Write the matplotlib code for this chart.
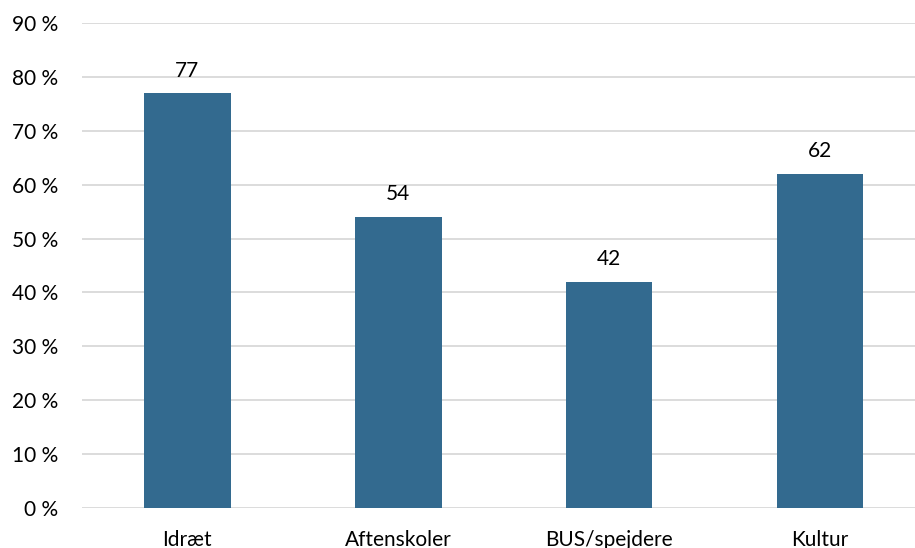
import matplotlib
matplotlib.use("Agg")
import matplotlib.pyplot as plt
from matplotlib.ticker import FuncFormatter

categories = ["Idræt", "Aftenskoler", "BUS/spejdere", "Kultur"]
values = [77, 54, 42, 62]
labels = ["77", "54", "42", "62"]

plt.rcParams['font.family'] = ['Lato', 'DejaVu Sans']

fig = plt.figure(figsize=(9.15, 5.48), dpi=100)
W, H = 915, 548
left, right = 82, 925.5
bottom, top = 508, 23
ax = fig.add_axes([left / W, (H - bottom) / H, (right - left) / W, (bottom - top) / H])

x = range(len(categories))
bars = ax.bar(x, values, width=0.41, color="#336a8f", zorder=3)
for xi, v, lab in zip(x, values, labels):
    ax.annotate(lab, (xi, v), xytext=(0, 9), textcoords="offset points",
                ha="center", va="bottom", fontsize=15, color="#000000")

ax.set_xlim(-0.5, 3.5)
ax.set_ylim(0, 90)
ax.set_yticks(range(0, 91, 10))
ax.yaxis.set_major_formatter(FuncFormatter(lambda v, p: f"{int(v)} %"))
ax.set_xticks(list(x))
ax.set_xticklabels(categories)
ax.grid(axis="y", color="#d9d9d9", linewidth=1.3, zorder=0)
for s in ax.spines.values():
    s.set_visible(False)
ax.tick_params(axis="both", length=0, labelsize=15, colors="#000000")
ax.tick_params(axis="x", pad=15.5)
ax.tick_params(axis="y", pad=17)

fig.savefig("out.png", dpi=100)
